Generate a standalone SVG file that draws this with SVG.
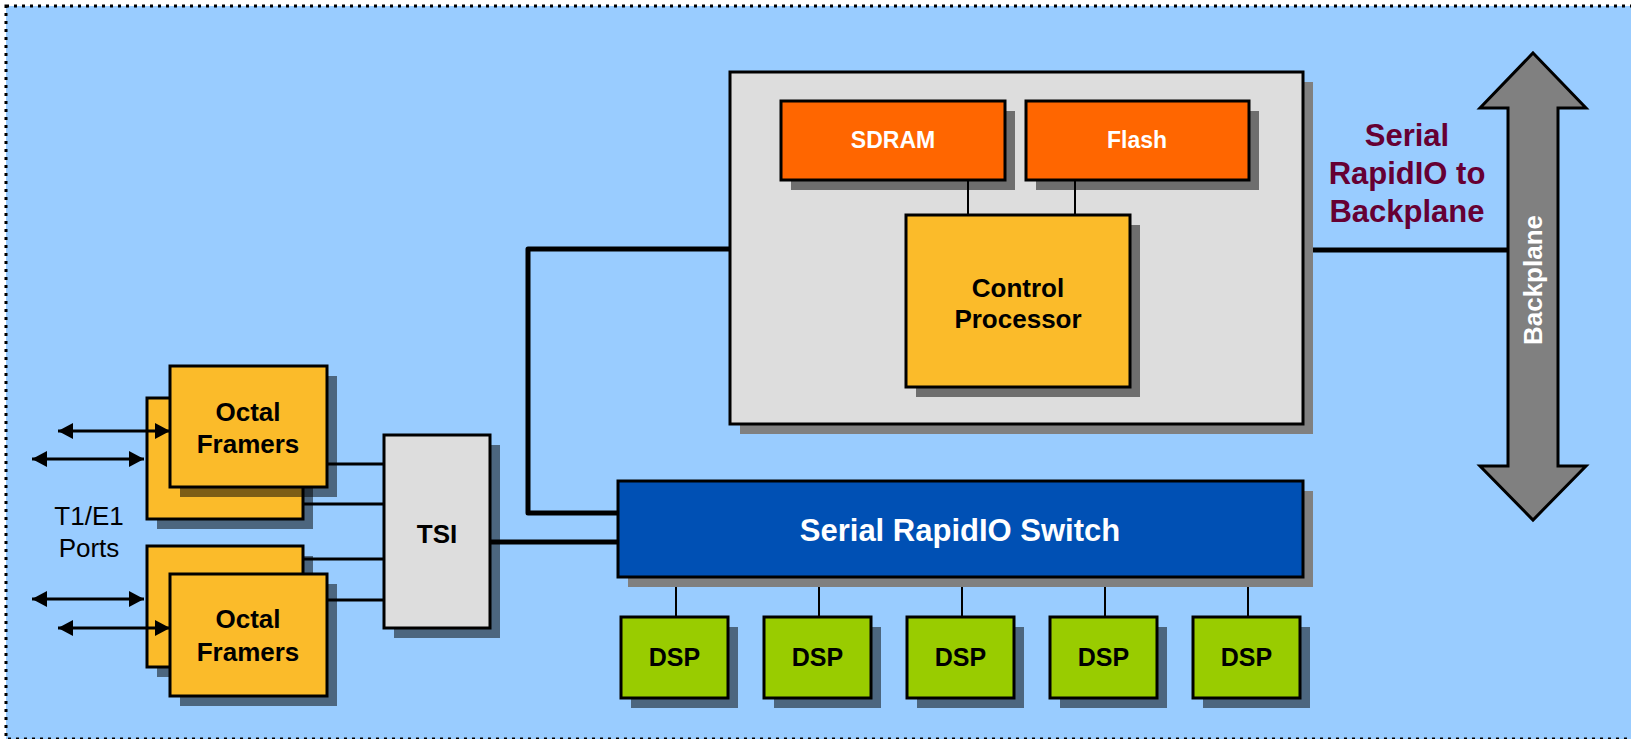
<svg xmlns="http://www.w3.org/2000/svg" width="1631" height="739" viewBox="0 0 1631 739">
  <style>
    .box { stroke: #000; stroke-width: 3; }
    .sh { fill: #000; fill-opacity: 0.5; }
    .shg { fill: #808080; }
    .orange { fill: #ff6600; }
    .amber { fill: #fbbb2a; }
    .grey { fill: #dddddd; }
    .green { fill: #99cc00; }
    .blue { fill: #0050b4; }
    .t { font-family: "Liberation Sans", Arial, sans-serif; font-weight: bold; text-anchor: middle; fill: #000; }
    .w { fill: #fff; }
    .m { fill: #660033; }
    .thin { stroke: #000; stroke-width: 2; fill: none; }
    .mid { stroke: #000; stroke-width: 3; fill: none; }
    .thick { stroke: #000; stroke-width: 5; fill: none; stroke-linejoin: round; }
    .port { stroke: #000; stroke-width: 3; fill: none; marker-start: url(#ah); marker-end: url(#ah); }
  </style>
  <defs>
    <marker id="ah" markerUnits="userSpaceOnUse" markerWidth="16" markerHeight="16" refX="15" refY="8" orient="auto-start-reverse" viewBox="0 0 16 16">
      <path d="M0,0 L15,8 L0,16 z" fill="#000"/>
    </marker>
  </defs>

  <!-- backdrop with dotted frame -->
  <rect x="0" y="0" width="1631" height="739" fill="#fff"/>
  <rect x="6" y="6" width="1640" height="733" fill="#99ccff" stroke="#000" stroke-width="3" stroke-dasharray="3 5"/>

  <!-- control board -->
  <g id="control-board">
    <rect class="shg" x="740" y="82" width="573" height="352"/>
    <rect class="box grey" x="730" y="72" width="573" height="352"/>
  </g>

  <g id="sdram">
    <rect class="sh" x="791" y="111" width="224" height="79"/>
    <rect class="box orange" x="781" y="101" width="224" height="79"/>
    <text class="t w" x="893" y="148" font-size="23">SDRAM</text>
  </g>

  <g id="flash">
    <rect class="sh" x="1036" y="111" width="223" height="79"/>
    <rect class="box orange" x="1026" y="101" width="223" height="79"/>
    <text class="t w" x="1137" y="148" font-size="23">Flash</text>
  </g>

  <g id="control-processor">
    <rect class="sh" x="916" y="225" width="224" height="172"/>
    <rect class="box amber" x="906" y="215" width="224" height="172"/>
    <text class="t" x="1018" y="297" font-size="26">Control</text>
    <text class="t" x="1018" y="328" font-size="26">Processor</text>
  </g>

  <!-- backplane bus -->
  <g id="backplane">
    <polygon points="1533,53 1586,108 1558,108 1558,466 1586,466 1533,520 1480,466 1508,466 1508,108 1480,108" fill="#808080" stroke="#000" stroke-width="3"/>
    <text class="t w" font-size="26" transform="translate(1542,280) rotate(-90)">Backplane</text>
  </g>

  <g id="backplane-label">
    <text class="t m" x="1407" y="146" font-size="31">Serial</text>
    <text class="t m" x="1407" y="184" font-size="31">RapidIO to</text>
    <text class="t m" x="1407" y="222" font-size="31">Backplane</text>
  </g>

  <!-- framers -->
  <g id="framers-top">
    <rect class="sh" x="157" y="408" width="156" height="121"/>
    <rect class="box amber" x="147" y="398" width="156" height="121"/>
    <rect class="sh" x="180" y="376" width="157" height="121"/>
    <rect class="box amber" x="170" y="366" width="157" height="121"/>
    <text class="t" x="248" y="421" font-size="26">Octal</text>
    <text class="t" x="248" y="453" font-size="26">Framers</text>
  </g>

  <g id="framers-bottom">
    <rect class="sh" x="157" y="556" width="156" height="121"/>
    <rect class="box amber" x="147" y="546" width="156" height="121"/>
    <rect class="sh" x="180" y="584" width="157" height="122"/>
    <rect class="box amber" x="170" y="574" width="157" height="122"/>
    <text class="t" x="248" y="628" font-size="26">Octal</text>
    <text class="t" x="248" y="661" font-size="26">Framers</text>
  </g>

  <g id="ports-label">
    <text x="89" y="525" font-family="Liberation Sans, Arial, sans-serif" font-size="26" text-anchor="middle">T1/E1</text>
    <text x="89" y="557" font-family="Liberation Sans, Arial, sans-serif" font-size="26" text-anchor="middle">Ports</text>
  </g>

  <g id="tsi">
    <rect class="sh" x="394" y="445" width="106" height="193"/>
    <rect class="box grey" x="384" y="435" width="106" height="193"/>
    <text class="t" x="437" y="543" font-size="26">TSI</text>
  </g>

  <g id="switch">
    <rect class="shg" x="628" y="491" width="685" height="96"/>
    <rect class="box blue" x="618" y="481" width="685" height="96"/>
    <text class="t w" x="960" y="541" font-size="31">Serial RapidIO Switch</text>
  </g>

  <g id="dsp1">
    <rect class="sh" x="631" y="627" width="107" height="81"/>
    <rect class="box green" x="621" y="617" width="107" height="81"/>
    <text class="t" x="674.5" y="666" font-size="25">DSP</text>
  </g>
  <g id="dsp2">
    <rect class="sh" x="774" y="627" width="107" height="81"/>
    <rect class="box green" x="764" y="617" width="107" height="81"/>
    <text class="t" x="817.5" y="666" font-size="25">DSP</text>
  </g>
  <g id="dsp3">
    <rect class="sh" x="917" y="627" width="107" height="81"/>
    <rect class="box green" x="907" y="617" width="107" height="81"/>
    <text class="t" x="960.5" y="666" font-size="25">DSP</text>
  </g>
  <g id="dsp4">
    <rect class="sh" x="1060" y="627" width="107" height="81"/>
    <rect class="box green" x="1050" y="617" width="107" height="81"/>
    <text class="t" x="1103.5" y="666" font-size="25">DSP</text>
  </g>
  <g id="dsp5">
    <rect class="sh" x="1203" y="627" width="107" height="81"/>
    <rect class="box green" x="1193" y="617" width="107" height="81"/>
    <text class="t" x="1246.5" y="666" font-size="25">DSP</text>
  </g>

  <!-- links -->
  <g id="connectors">
    <path class="thick" d="M730,249 H528 V513 H618"/>
    <path class="thick" d="M1313,250 H1509"/>
    <path class="thick" d="M490,542 H618"/>
    <path class="thin" d="M968,180 V215"/>
    <path class="thin" d="M1075,180 V215"/>
    <path class="mid" d="M327,464 H384"/>
    <path class="mid" d="M303,504 H384"/>
    <path class="mid" d="M303,559 H384"/>
    <path class="mid" d="M327,600 H384"/>
    <path class="thin" d="M676,587 V617"/>
    <path class="thin" d="M819,587 V617"/>
    <path class="thin" d="M962,587 V617"/>
    <path class="thin" d="M1105,587 V617"/>
    <path class="thin" d="M1248,587 V617"/>
    <path class="port" d="M58,431 H170"/>
    <path class="port" d="M32,459 H144"/>
    <path class="port" d="M32,599 H144"/>
    <path class="port" d="M58,628 H170"/>
  </g>
</svg>
